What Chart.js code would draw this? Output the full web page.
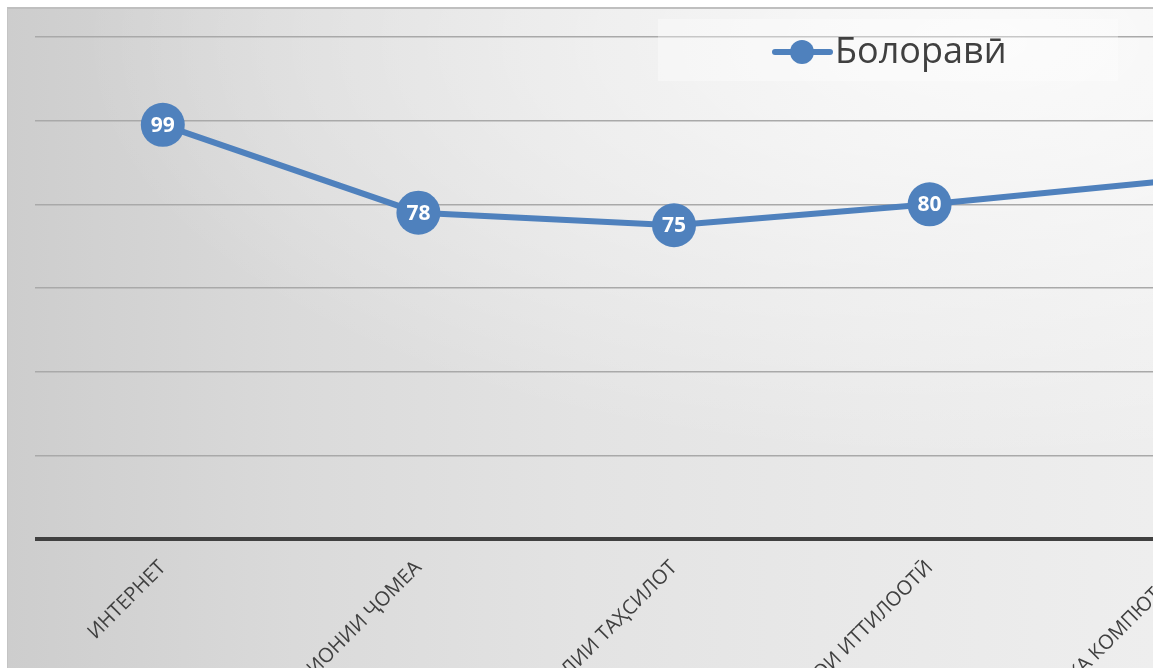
<!DOCTYPE html>
<html>
<head>
<meta charset="utf-8">
<script src="https://cdn.jsdelivr.net/npm/chart.js@4/dist/chart.umd.min.js"></script>
<style>
  html, body { margin: 0; padding: 0; background: #ffffff; width: 1161px; height: 668px; overflow: hidden; }
  #wrap {
    position: absolute; left: 7px; top: 7px; width: 1145px; height: 661px;
    border-top: 2px solid #bfbfbf; border-left: 1px solid #c4c4c4;
    overflow: hidden;
    background:
      radial-gradient(ellipse 900px 420px at 85% 5%, rgba(255,255,255,0.75), rgba(255,255,255,0) 100%),
      linear-gradient(to right, #cdcdcd 0%, #dadada 25%, #e3e3e3 50%, #e9e9e9 75%, #eeeeee 100%);
  }
  #c { position: absolute; left: 0; top: 0; }
</style>
</head>
<body>
<div id="wrap"><canvas id="c" width="1400" height="800"></canvas></div>
<script>
const categories = ["ИНТЕРНЕТ", "ТЕЛЕВИЗИОНИИ ҶОМЕА", "СИСТЕМАИ МИЛЛИИ ТАҲСИЛОТ", "ТЕХНОЛОГИЯҲОИ ИТТИЛООТӢ", "ТЕХНИКА КОМПЮТЕРӢ"];
const seriesName = "Болоравӣ";
const seriesValues = [99, 78, 75, 80, 86];
const yTicks = [0, 20, 40, 60, 80, 100, 120];

const BLUE = '#4f81bd';

const dataLabels = {
  id: 'dataLabels',
  afterDatasetsDraw(chart) {
    const ctx = chart.ctx;
    const meta = chart.getDatasetMeta(0);
    ctx.save();
    ctx.fillStyle = '#ffffff';
    ctx.font = 'bold 21px "Open Sans"';
    ctx.textAlign = 'center';
    ctx.textBaseline = 'middle';
    meta.data.forEach((pt, i) => {
      ctx.fillText(String(chart.data.datasets[0].data[i]), pt.x, pt.y + 1);
    });
    ctx.restore();
  }
};

const customLegend = {
  id: 'customLegend',
  afterDraw(chart) {
    const ctx = chart.ctx;
    ctx.save();
    ctx.fillStyle = 'rgba(255,255,255,0.35)';
    ctx.fillRect(650, 10, 460, 62);
    ctx.strokeStyle = BLUE;
    ctx.lineWidth = 6;
    ctx.lineCap = 'round';
    ctx.beginPath();
    ctx.moveTo(767, 43);
    ctx.lineTo(822, 43);
    ctx.stroke();
    ctx.fillStyle = BLUE;
    ctx.beginPath();
    ctx.arc(794, 43, 12, 0, Math.PI * 2);
    ctx.fill();
    ctx.fillStyle = '#404040';
    ctx.font = '36px "Open Sans"';
    ctx.textAlign = 'left';
    ctx.textBaseline = 'middle';
    ctx.fillText(chart.data.datasets[0].label, 827, 44);
    ctx.restore();
  }
};

new Chart(document.getElementById('c'), {
  type: 'line',
  data: {
    labels: categories,
    datasets: [{
      label: seriesName,
      data: seriesValues,
      borderColor: BLUE,
      backgroundColor: BLUE,
      borderWidth: 6,
      pointRadius: 22,
      pointHoverRadius: 22,
      pointBackgroundColor: BLUE,
      pointBorderWidth: 0,
      tension: 0,
      clip: false
    }]
  },
  options: {
    responsive: false,
    animation: false,
    events: [],
    layout: { padding: { left: 27, top: 28, right: 95, bottom: 0 } },
    plugins: { legend: { display: false }, tooltip: { enabled: false } },
    scales: {
      x: {
        offset: true,
        grid: { display: false, drawTicks: false },
        border: { display: false },
        ticks: {
          autoSkip: false,
          minRotation: 45,
          maxRotation: 45,
          padding: 17,
          color: '#404040',
          font: { family: '"Open Sans"', size: 20 }
        },
        afterFit(scale) { scale.height = 270; }
      },
      y: {
        min: yTicks[0],
        max: yTicks[yTicks.length - 1],
        afterBuildTicks(scale) { scale.ticks = yTicks.map(v => ({ value: v })); },
        ticks: { display: false },
        border: { display: false },
        grid: {
          drawTicks: false,
          color: (c) => c.tick && c.tick.value === 0 ? '#404040' : '#a9a9a9',
          lineWidth: (c) => c.tick && c.tick.value === 0 ? 4 : 1.5
        },
        afterFit(scale) { scale.width = 0; }
      }
    }
  },
  plugins: [dataLabels, customLegend]
});
</script>
</body>
</html>
